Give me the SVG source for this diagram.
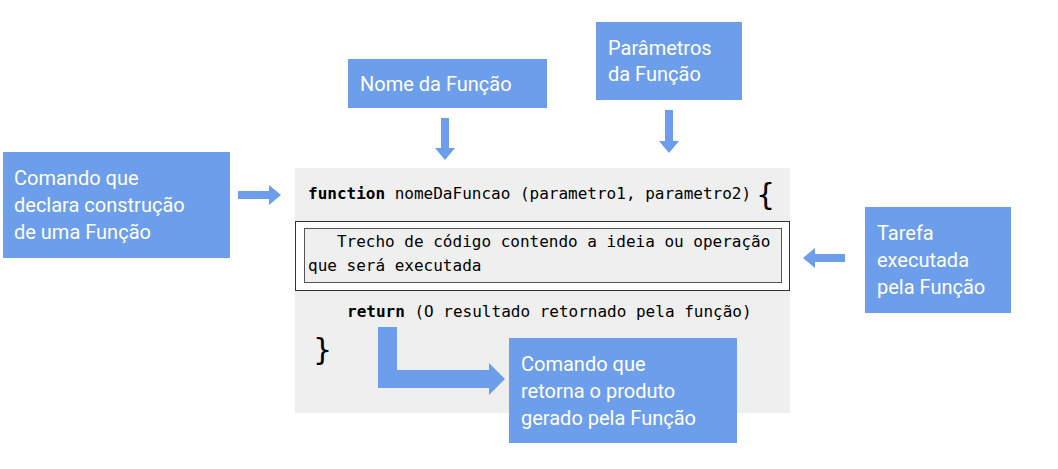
<svg xmlns="http://www.w3.org/2000/svg" width="1058" height="469" viewBox="0 0 1058 469">
<style>
.b{fill:#6d9eeb}
.t{font-family:Roboto,"Liberation Sans",sans-serif;font-size:20px;fill:#fff}
.m{font-family:"DejaVu Sans Mono","Liberation Mono",monospace;font-size:16px;fill:#000}
</style>
<rect width="1058" height="469" fill="#fff"/>
<g id="code">
<rect x="295" y="168" width="495" height="245" fill="#efefef"/>
<rect x="295.5" y="221.5" width="494" height="69" fill="#fff" stroke="#333"/>
<rect x="304.5" y="228.5" width="477" height="54" fill="#efefef" stroke="#555"/>
<text class="m" x="308" y="199"><tspan font-weight="bold">function</tspan> nomeDaFuncao (parametro1, parametro2)</text>
<text x="756" y="205" font-family="DejaVu Sans,sans-serif" font-size="30">{</text>
<text class="m" x="308" y="247" xml:space="preserve">   Trecho de código contendo a ideia ou operação</text>
<text class="m" x="308" y="271">que será executada</text>
<text class="m" x="347" y="317"><tspan font-weight="bold">return</tspan> (O resultado retornado pela função)</text>
<text x="313" y="360" font-family="DejaVu Sans,sans-serif" font-size="30">}</text>
</g>
<g id="nome"><rect class="b" x="348" y="59" width="199" height="49"/><text class="t" x="360" y="91">Nome da Função</text></g>
<g id="param"><rect class="b" x="596" y="22" width="146" height="78"/><text class="t" x="608" y="55">Parâmetros</text><text class="t" x="608" y="81">da Função</text></g>
<g id="comando"><rect class="b" x="3" y="152" width="227" height="106"/><text class="t" x="14" y="185">Comando que</text><text class="t" x="14" y="212">declara construção</text><text class="t" x="14" y="239">de uma Função</text></g>
<g id="tarefa"><rect class="b" x="865" y="207" width="146" height="106"/><text class="t" x="877" y="240">Tarefa</text><text class="t" x="877" y="267">executada</text><text class="t" x="877" y="294">pela Função</text></g>
<g id="retorna"><rect class="b" x="509" y="338" width="228" height="105"/><text class="t" x="521" y="371">Comando que</text><text class="t" x="521" y="398">retorna o produto</text><text class="t" x="521" y="425">gerado pela Função</text></g>
<g id="connectors" class="b">
<polygon points="441,118 449,118 449,148 455,148 445,160 435,148 441,148"/>
<polygon points="665,110 673,110 673,141 679,141 669,153 659,141 665,141"/>
<polygon points="238,191 269,191 269,185 281,195 269,205 269,199 238,199"/>
<polygon points="845,254 815,254 815,248 803,258 815,268 815,262 845,262"/>
<polygon points="378,327 397,327 397,370 489,370 489,363 505,379 489,395 489,388 378,388"/>
</g>
</svg>
